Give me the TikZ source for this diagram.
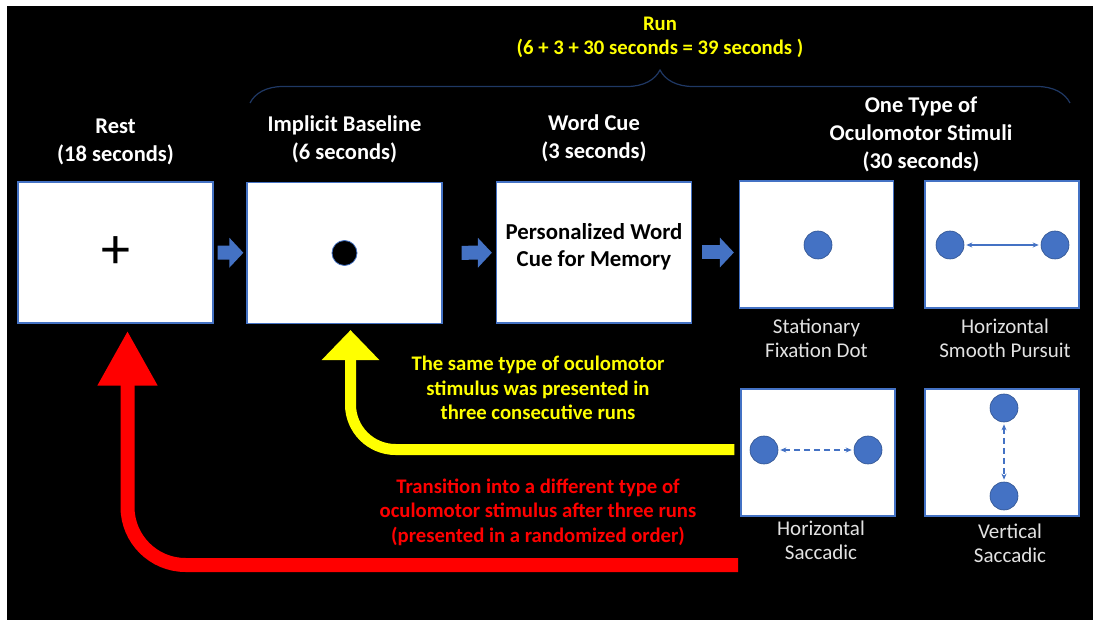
\documentclass[tikz,border=0pt]{standalone}
\usepackage{fontspec}
\setmainfont{Carlito}
\usetikzlibrary{positioning,arrows.meta,decorations.pathreplacing}
\definecolor{cueblue}{HTML}{4472C4}
\definecolor{dotedge}{HTML}{2F528F}
\definecolor{bracenavy}{HTML}{1F3864}
\definecolor{capgray}{HTML}{E2E2E2}
\definecolor{loopyellow}{HTML}{FFFF00}
\definecolor{loopred}{HTML}{FF0000}

\begin{document}
\begin{tikzpicture}[x=1pt, y=-1pt,
    screen/.style={draw=cueblue, line width=1.2pt, fill=white, inner sep=0pt},
    big screen/.style={screen, minimum width=195pt, minimum height=141pt},
    small screen/.style={screen, minimum width=154pt, minimum height=127pt},
    header/.style={text=white, align=center, inner sep=0pt, font=\bfseries\fontsize{22.5}{28}\selectfont},
    caption/.style={text=capgray, align=center, inner sep=0pt, font=\fontsize{21}{24}\selectfont},
    note/.style={text=#1, align=center, inner sep=0pt, font=\bfseries\fontsize{20.7}{24.5}\selectfont},
    blue dot/.style={circle, fill=cueblue, draw=dotedge, line width=0.6pt, minimum size=28pt, inner sep=0pt},
    flow arrow/.style={cueblue, line width=14pt, -{Triangle[length=14pt, width=29pt]}},
    move arrow/.style={cueblue, line width=1.2pt, {Stealth[length=6pt, width=5pt]}-{Stealth[length=6pt, width=5pt]}, shorten <=2pt, shorten >=2pt},
    loop back/.style={#1, line width=11pt}
]
\useasboundingbox (0,0) rectangle (1093,620);
\fill[white] (0,0) rectangle (1093,620);
\fill[black] (7,6) rectangle (1093,620);

% Screens of one run
\node [big screen] (rest) at (115.5,252.5) {};
\node [big screen] (base) at (344.5,253) {};
\node [big screen] (word) at (594,252.5) {};
\node [small screen] (stat) at (816.5,244.5) {};
\node [small screen] (pursuit) at (1002,244.5) {};
\node [small screen] (hsac) at (818,452.5) {};
\node [small screen] (vsac) at (1002,452.5) {};

% Screen contents
\node (cross) at (rest) {\fontsize{58}{58}\selectfont +};
\node [circle, fill=black, draw=cueblue, line width=0.8pt, minimum size=25pt, inner sep=0pt] (fixdot) at (base) {};
\node [align=center, inner sep=0pt, font=\bfseries\fontsize{22.8}{27}\selectfont] (wordtext) at ([yshift=6pt]word.center) {Personalized Word\\Cue for Memory};

\node [blue dot] (sdot) at (818,245) {};
\node [blue dot] (pleft) at (950,245) {};
\node [blue dot] (pright) at (1055,245) {};
\node [blue dot] (hleft) at (764,450) {};
\node [blue dot] (hright) at (868,450) {};
\node [blue dot] (vtop) at (1004,408) {};
\node [blue dot] (vbottom) at (1004,496) {};

\draw [move arrow] (pleft) -- (pright);
\draw [move arrow, dash pattern=on 6pt off 4pt] (hleft) -- (hright);
\draw [move arrow, dash pattern=on 6pt off 4pt] (vtop) -- (vbottom);

% Headers
\node [header, above=16pt of rest] (resthead) {Rest\\(18 seconds)};
\node [header, above=19pt of base] (basehead) {Implicit Baseline\\(6 seconds)};
\node [header, above=19pt of word] (wordhead) {Word Cue\\(3 seconds)};
\node [header] (stimhead) at (921,134) {One Type of\\Oculomotor Stimuli\\(30 seconds)};

% Captions
\node [caption, below=10pt of stat] (statcap) {Stationary\\Fixation Dot};
\node [caption, below=10pt of pursuit, xshift=3pt] (pursuitcap) {Horizontal\\Smooth Pursuit};
\node [caption, below=4pt of hsac, xshift=3pt] (hsaccap) {Horizontal\\Saccadic};
\node [caption, below=7pt of vsac, xshift=8pt] (vsaccap) {Vertical\\Saccadic};

% Flow between screens
\draw [flow arrow, shorten <=4pt, shorten >=3pt] (rest) -- (base);
\draw [flow arrow, shorten <=19pt, shorten >=4pt] (base) -- (word);
\draw [flow arrow, shorten <=10pt, shorten >=5pt] (word) -- (word -| stat.west);

% Run brace
\draw [bracenavy, line width=1.2pt, decorate, decoration={brace, amplitude=33pt}] (250,103) -- (1070,103);
\coordinate (bracetip) at (660,70);
\node [note=loopyellow, above=12pt of bracetip] (runtext) {Run\\(6 + 3 + 30 seconds = 39 seconds )};

% Loops back
\draw [loop back=loopyellow, rounded corners=45pt, -{Triangle[length=30pt, width=56pt]}] ([shift={(-6,-3)}]hsac.west) -| ([xshift=6pt, yshift=-6pt]base.south);
\coordinate (redstart) at (738,565);
\draw [loop back=loopred, line width=14pt, rounded corners=58pt, -{Triangle[length=55pt, width=56pt]}] (redstart) -| ([xshift=12pt, yshift=-7pt]rest.south);

\node [note=loopyellow] (sametext) at (538,388) {The same type of oculomotor\\stimulus was presented in\\three consecutive runs};
\node [note=loopred] (difftext) at (538,512) {Transition into a different type of\\oculomotor stimulus after three runs\\(presented in a randomized order)};

\end{tikzpicture}
\end{document}
